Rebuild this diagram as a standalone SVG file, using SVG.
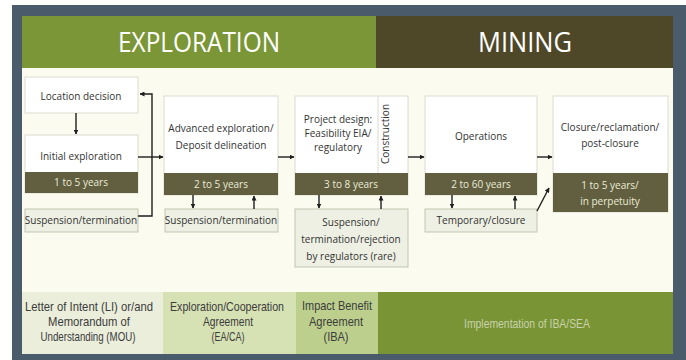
<svg xmlns="http://www.w3.org/2000/svg" width="686" height="360" viewBox="0 0 686 360">
<defs>
<marker id="ah" viewBox="0 0 10 10" refX="9" refY="5" markerWidth="5" markerHeight="5" orient="auto" markerUnits="userSpaceOnUse">
<path d="M0,0 L10,5 L0,10 z" fill="#1e1e1e"/>
</marker>
<style>
.box{fill:#ffffff;stroke:#dcdcd0;stroke-width:1}
.sbox{fill:#eef0e3;stroke:#c2c6b2;stroke-width:1}
.band{fill:#615f3f}
.t{font-family:"Open Sans","Liberation Sans",sans-serif;font-size:10px;fill:#333;text-anchor:middle}
.bt{font-family:"Open Sans","Liberation Sans",sans-serif;font-size:10px;fill:#ecebd8;text-anchor:middle}
.hd{font-family:"Open Sans","Liberation Sans",sans-serif;font-size:27px;fill:#ffffff;text-anchor:middle}
.ft{font-family:"Liberation Sans",Arial,sans-serif;font-size:13px;fill:#3c3c3c;text-anchor:middle}
.ln{fill:none;stroke:#1e1e1e;stroke-width:1.4}
</style>
</defs>
<rect x="0" y="0" width="686" height="360" fill="#ffffff"/>
<rect x="12" y="5" width="674" height="355" fill="#4a5c6c"/>
<rect x="22" y="16" width="651" height="338" fill="#fbfbef"/>
<g id="header">
<rect x="22" y="16" width="354" height="52" fill="#7a9636"/>
<rect x="376" y="16" width="297" height="52" fill="#4e4828"/>
<text class="hd" x="199" y="52" textLength="162" lengthAdjust="spacingAndGlyphs">EXPLORATION</text>
<text class="hd" x="525" y="52" textLength="94" lengthAdjust="spacingAndGlyphs">MINING</text>
</g>
<g id="n-location">
<rect class="box" x="25" y="77" width="113" height="36"/>
<text class="t" x="81" y="100">Location decision</text>
</g>
<g id="n-initial">
<rect class="box" x="25" y="135" width="113" height="58"/>
<rect class="band" x="25" y="172" width="113" height="21"/>
<text class="t" x="81" y="160">Initial exploration</text>
<text class="bt" x="81" y="186">1 to 5 years</text>
</g>
<g id="n-susp1">
<rect class="sbox" x="25" y="209" width="113" height="23"/>
<text class="t" x="81" y="224">Suspension/termination</text>
</g>
<g id="n-advanced">
<rect class="box" x="164" y="96" width="114" height="99"/>
<rect class="band" x="164" y="173" width="114" height="22"/>
<text class="t" x="221" y="132">Advanced exploration/</text>
<text class="t" x="221" y="149">Deposit delineation</text>
<text class="bt" x="221" y="188">2 to 5 years</text>
</g>
<g id="n-susp2">
<rect class="sbox" x="165" y="209" width="113" height="23"/>
<text class="t" x="221" y="224">Suspension/termination</text>
</g>
<g id="n-project">
<rect class="box" x="295" y="96" width="113" height="99"/>
<line x1="378" y1="96" x2="378" y2="173" stroke="#dcdcd0" stroke-width="1"/>
<rect class="band" x="295" y="173" width="113" height="22"/>
<text class="t" x="338" y="123">Project design:</text>
<text class="t" x="338" y="137">Feasibility EIA/</text>
<text class="t" x="338" y="151">regulatory</text>
<text class="t" transform="translate(389,134) rotate(-90)" x="0" y="0">Construction</text>
<text class="bt" x="351" y="188">3 to 8 years</text>
</g>
<g id="n-susp3">
<rect class="sbox" x="295" y="209" width="113" height="58"/>
<text class="t" x="351" y="226">Suspension/</text>
<text class="t" x="351" y="243">termination/rejection</text>
<text class="t" x="351" y="260">by regulators (rare)</text>
</g>
<g id="n-operations">
<rect class="box" x="425" y="96" width="112" height="99"/>
<rect class="band" x="425" y="173" width="112" height="22"/>
<text class="t" x="481" y="140">Operations</text>
<text class="bt" x="481" y="188">2 to 60 years</text>
</g>
<g id="n-temporary">
<rect class="sbox" x="425" y="209" width="112" height="23"/>
<text class="t" x="481" y="224">Temporary/closure</text>
</g>
<g id="n-closure">
<rect class="box" x="553" y="96" width="115" height="116"/>
<rect class="band" x="553" y="173" width="115" height="39"/>
<text class="t" x="610" y="131">Closure/reclamation/</text>
<text class="t" x="610" y="147">post-closure</text>
<text class="bt" x="610" y="189">1 to 5 years/</text>
<text class="bt" x="610" y="205">in perpetuity</text>
</g>
<g id="connectors">
<path class="ln" d="M76,113 V134" marker-end="url(#ah)"/>
<path class="ln" d="M138,216 H152 V94 H140" marker-end="url(#ah)"/>
<path class="ln" d="M138,157 H163" marker-end="url(#ah)"/>
<path class="ln" d="M278,157 H294" marker-end="url(#ah)"/>
<path class="ln" d="M408,157 H424" marker-end="url(#ah)"/>
<path class="ln" d="M537,157 H552" marker-end="url(#ah)"/>
<path class="ln" d="M193,195 V208" marker-end="url(#ah)"/>
<path class="ln" d="M254,209 V196" marker-end="url(#ah)"/>
<path class="ln" d="M319,195 V208" marker-end="url(#ah)"/>
<path class="ln" d="M381,209 V196" marker-end="url(#ah)"/>
<path class="ln" d="M452,195 V208" marker-end="url(#ah)"/>
<path class="ln" d="M515,209 V196" marker-end="url(#ah)"/>
<path class="ln" d="M537,211 L549,188" stroke-width="1" marker-end="url(#ah)"/>
</g>
<g id="footer">
<rect x="22" y="292" width="141" height="62" fill="#eaeedb"/>
<rect x="163" y="292" width="133" height="62" fill="#d6e1b4"/>
<rect x="296" y="292" width="82" height="62" fill="#bccf8c"/>
<rect x="378" y="292" width="295" height="62" fill="#789434"/>
<text class="ft" x="89" y="311" textLength="128" lengthAdjust="spacingAndGlyphs">Letter of Intent (LI) or/and</text>
<text class="ft" x="89" y="326" textLength="82" lengthAdjust="spacingAndGlyphs">Memorandum of</text>
<text class="ft" x="88" y="341" textLength="95" lengthAdjust="spacingAndGlyphs">Understanding (MOU)</text>
<text class="ft" x="227" y="311" textLength="114" lengthAdjust="spacingAndGlyphs">Exploration/Cooperation</text>
<text class="ft" x="228" y="326" textLength="50" lengthAdjust="spacingAndGlyphs">Agreement</text>
<text class="ft" x="228" y="341" textLength="33" lengthAdjust="spacingAndGlyphs">(EA/CA)</text>
<text class="ft" x="337" y="310" textLength="70" lengthAdjust="spacingAndGlyphs">Impact Benefit</text>
<text class="ft" x="336" y="326" textLength="54" lengthAdjust="spacingAndGlyphs">Agreement</text>
<text class="ft" x="336" y="341" textLength="25" lengthAdjust="spacingAndGlyphs">(IBA)</text>
<text class="ft" x="527" y="328" style="fill:#c9d2ad" textLength="126" lengthAdjust="spacingAndGlyphs">Implementation of IBA/SEA</text>
</g>
</svg>
